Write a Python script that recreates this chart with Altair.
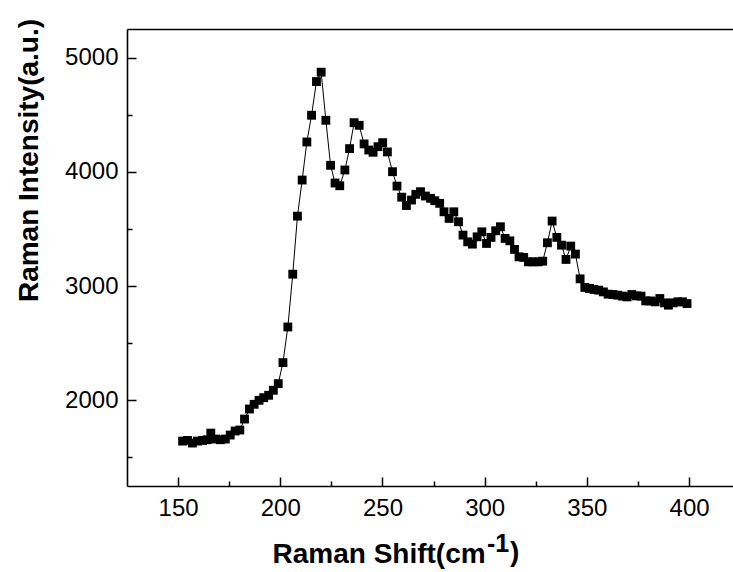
import altair as alt
import pandas as pd

# Raman shift (cm^-1) and intensity (a.u.)
shift = [152.2, 154.6, 157.0, 159.5, 162.0, 164.2, 166.0, 168.3, 170.7, 173.1,
         175.5, 177.9, 180.2, 182.5, 184.9, 187.2, 189.6, 191.9, 194.3, 196.6,
         199.0, 201.3, 203.7, 206.1, 208.4, 210.7, 213.0, 215.3, 217.7, 220.0,
         222.3, 224.6, 226.8, 229.1, 231.6, 233.9, 236.1, 238.6, 241.0, 243.3,
         245.4, 247.8, 250.1, 252.4, 254.9, 257.1, 259.4, 261.7, 264.2, 266.3,
         268.6, 271.0, 273.5, 275.6, 278.0, 280.1, 282.6, 284.9, 287.2, 289.4,
         291.7, 294.0, 296.3, 298.6, 300.9, 303.1, 305.4, 307.7, 310.0, 312.3,
         314.6, 316.8, 319.1, 321.4, 323.7, 326.1, 328.4, 330.7, 333.0, 335.3,
         337.6, 339.8, 342.1, 344.4, 346.7, 349.0, 351.3, 353.5, 355.8, 358.1,
         360.4, 362.8, 365.1, 367.4, 369.7, 372.0, 374.3, 376.5, 378.8, 381.1,
         383.4, 385.7, 388.0, 389.9, 392.2, 394.5, 396.8, 399.0]
intensity = [1643, 1649, 1626, 1643, 1649, 1655, 1713, 1661, 1655, 1661,
             1696, 1731, 1740, 1836, 1924, 1965, 2000, 2023, 2044, 2088,
             2146, 2330, 2642, 3104, 3612, 3928, 4261, 4495, 4790, 4872,
             4451, 4057, 3902, 3878, 4016, 4203, 4430, 4407, 4244, 4191,
             4171, 4220, 4255, 4174, 4001, 3875, 3778, 3705, 3753, 3803,
             3826, 3788, 3768, 3747, 3724, 3650, 3592, 3650, 3563, 3446,
             3387, 3367, 3431, 3475, 3373, 3426, 3484, 3519, 3417, 3396,
             3321, 3256, 3251, 3212, 3212, 3212, 3218, 3379, 3569, 3426,
             3358, 3233, 3350, 3280, 3063, 2988, 2979, 2970, 2964, 2949,
             2929, 2926, 2920, 2912, 2905, 2926, 2914, 2912, 2870, 2870,
             2862, 2891, 2853, 2833, 2853, 2862, 2862, 2847]

x_major = [150, 200, 250, 300, 350, 400]
x_minor = [175, 225, 275, 325, 375]
y_major = [2000, 3000, 4000, 5000]
y_minor = [1500, 2500, 3500, 4500]

x_title = "Raman Shift(cm"
x_title_sup = ["-1"]
x_title_end = [")"]
y_title = "Raman Intensity(a.u.)"

df = pd.DataFrame({"shift": shift, "intensity": intensity})

FONT = "Liberation Sans"
xs = alt.Scale(domain=[125, 421.5], nice=False, zero=False)
ys = alt.Scale(domain=[1250, 5250], nice=False, zero=False)

common = dict(grid=False, domainColor="black", tickColor="black",
              labelColor="black", titleColor="black", labelFont=FONT,
              titleFont=FONT, tickWidth=1.5, domainWidth=1.6)

x_main = alt.Axis(orient="bottom", values=x_major, format="d",
                  tickSize={"expr": "-9"}, labelPadding=38,
                  labelBaseline="alphabetic", labelFontSize=24,
                  labelFlush=False, labelOverlap=False,
                  title=x_title, titleFontSize=28, titleFontWeight="bold",
                  titleAlign="left", titleBaseline="alphabetic",
                  titleX=145, titleY=76, **common)
y_main = alt.Axis(orient="left", values=y_major, format="d",
                  tickSize={"expr": "-9"}, labelPadding=18,
                  labelFontSize=24, labelFlush=False, labelOverlap=False,
                  title=y_title, titleFontSize=28, titleFontWeight="bold",
                  titleAngle=270, titleAlign="center",
                  titleBaseline="alphabetic", titleX=-90, titleY=131,
                  **common)
x_min = alt.Axis(orient="bottom", values=x_minor, tickSize={"expr": "-5"},
                 labels=False, domain=False, title=None, **common)
y_min = alt.Axis(orient="left", values=y_minor, tickSize={"expr": "-5"},
                 labels=False, domain=False, title=None, **common)
x_top = alt.Axis(orient="top", ticks=False, labels=False, domain=True,
                 title=None, **common)

base = alt.Chart(df)

line = base.mark_line(color="black", strokeWidth=1).encode(
    x=alt.X("shift:Q", scale=xs, axis=x_main),
    y=alt.Y("intensity:Q", scale=ys, axis=y_main),
)
points = base.mark_point(shape="square", filled=True, size=78,
                         color="black", opacity=1).encode(
    x=alt.X("shift:Q", scale=xs, axis=x_min),
    y=alt.Y("intensity:Q", scale=ys, axis=y_min),
)
frame = base.mark_line(opacity=0).encode(
    x=alt.X("shift:Q", scale=xs, axis=x_top),
    y=alt.Y("intensity:Q", scale=ys, axis=None),
)

# superscript "-1" and closing bracket of the x-axis title
sup = alt.Chart(pd.DataFrame({"t": x_title_sup})).mark_text(
    font=FONT, fontSize=25, fontWeight="bold", color="black",
    align="left", baseline="alphabetic",
).encode(text="t:N", x=alt.value(360), y=alt.value(523))
close = alt.Chart(pd.DataFrame({"t": x_title_end})).mark_text(
    font=FONT, fontSize=28, fontWeight="bold", color="black",
    align="left", baseline="alphabetic",
).encode(text="t:N", x=alt.value(383), y=alt.value(532))

chart = alt.layer(line, points, frame, sup, close).resolve_axis(
    x="independent", y="independent"
).properties(
    width=606, height=457,
    autosize=alt.AutoSizeParams(type="none"),
    padding={"left": 127, "top": 29, "right": 0, "bottom": 86},
    background="white",
).configure_view(stroke=None)

chart.save("out.html", embed_options={"renderer": "svg", "actions": False})
